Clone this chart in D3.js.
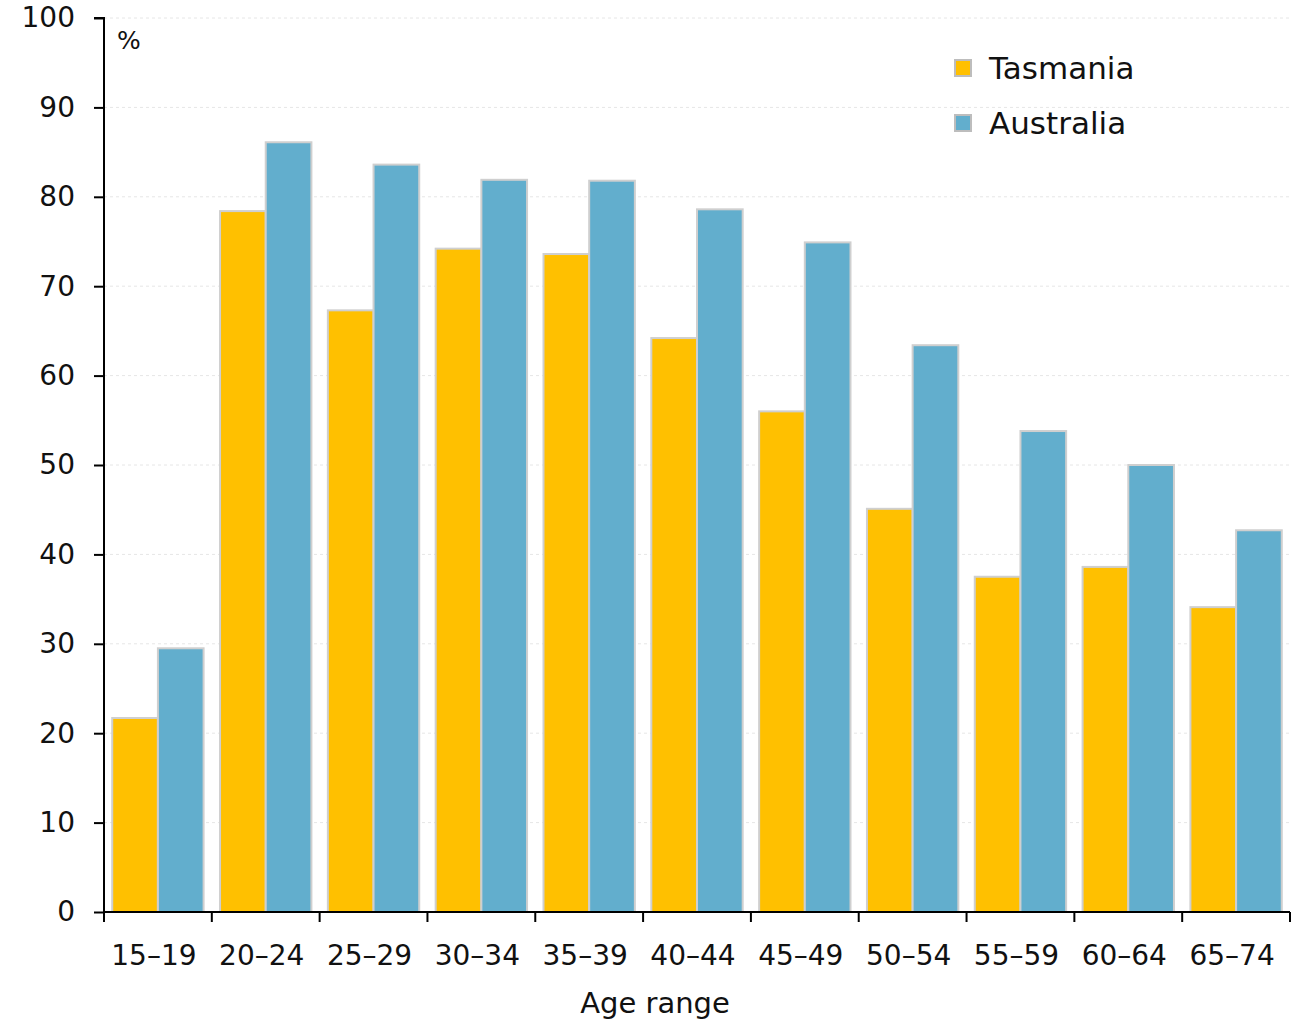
<!DOCTYPE html>
<html>
<head>
<meta charset="utf-8">
<script src="https://cdn.jsdelivr.net/npm/d3@7"></script>
<style>
  html, body { margin: 0; padding: 0; background: #fff; }
  svg { display: block; font-family: "DejaVu Sans", "Lato", sans-serif; }
</style>
</head>
<body>
<svg id="chart" width="1310" height="1022"></svg>
<script>
// Participation rate by age range, Tasmania vs Australia (%)
const categories = ["15–19", "20–24", "25–29", "30–34", "35–39", "40–44", "45–49", "50–54", "55–59", "60–64", "65–74"];
const tasmania  = [21.7, 78.4, 67.3, 74.2, 73.6, 64.2, 56.0, 45.1, 37.5, 38.6, 34.1];
const australia = [29.5, 86.1, 83.6, 81.9, 81.8, 78.6, 74.9, 63.4, 53.8, 50.0, 42.7];
const seriesNames = ["Tasmania", "Australia"];
const seriesColors = ["#FFC000", "#62AECD"];
const yTicks = [0, 10, 20, 30, 40, 50, 60, 70, 80, 90, 100];

const svg = d3.select("#chart");
const W = 1310, H = 1022;
const margin = { left: 104, right: 20, top: 18, bottom: 110 };
const x0 = margin.left, x1 = W - margin.right, yTop = margin.top, yBot = H - margin.bottom;
const textColor = "#111";

const x = d3.scaleBand().domain(categories).range([x0, x1]).paddingInner(0).paddingOuter(0);
const xs = d3.scaleBand().domain(seriesNames).range([0, x.bandwidth()]).paddingOuter(0.18).paddingInner(0);
const y = d3.scaleLinear().domain([0, 100]).range([yBot, yTop]);

// faint dashed gridlines
svg.append("g")
  .selectAll("line")
  .data(yTicks.filter(d => d > 0))
  .join("line")
  .attr("x1", x0).attr("x2", x1)
  .attr("y1", d => y(d)).attr("y2", d => y(d))
  .attr("stroke", "#e6e6e6")
  .attr("stroke-width", 1)
  .attr("stroke-dasharray", "3,3");

// bars
const rows = categories.map((c, i) => ({ cat: c, vals: [tasmania[i], australia[i]] }));
const groups = svg.append("g").selectAll("g")
  .data(rows).join("g")
  .attr("transform", d => `translate(${x(d.cat)},0)`);
groups.selectAll("rect")
  .data(d => d.vals.map((v, j) => ({ name: seriesNames[j], v, j })))
  .join("rect")
  .attr("x", d => xs(d.name))
  .attr("width", xs.bandwidth())
  .attr("y", d => y(d.v))
  .attr("height", d => y(0) - y(d.v))
  .attr("fill", d => seriesColors[d.j])
  .attr("stroke", "#cfcfcf")
  .attr("stroke-width", 2);

// y axis
const yAxis = d3.axisLeft(y).tickValues(yTicks).tickSize(10).tickPadding(19);
const gy = svg.append("g").attr("transform", `translate(${x0},0)`).call(yAxis);
gy.select(".domain").attr("stroke", "#000").attr("stroke-width", 2).attr("d", `M-10,${yTop}H0V${yBot}`);
gy.selectAll(".tick line").attr("stroke", "#000").attr("stroke-width", 2);
gy.selectAll(".tick text").attr("font-size", 28).attr("fill", textColor).attr("font-family", "DejaVu Sans, sans-serif");

// x axis with ticks at category boundaries
const gx = svg.append("g").attr("transform", `translate(0,${yBot})`);
gx.append("line").attr("x1", x0).attr("x2", x1).attr("stroke", "#000").attr("stroke-width", 2);
const bounds = categories.map(c => x(c)).concat([x1]);
gx.selectAll("line.tk").data(bounds).join("line").attr("class", "tk")
  .attr("x1", d => d).attr("x2", d => d).attr("y1", 0).attr("y2", 10)
  .attr("stroke", "#000").attr("stroke-width", 2);
gx.selectAll("text").data(categories).join("text")
  .attr("x", d => x(d) + x.bandwidth() / 2 - 4)
  .attr("y", 53)
  .attr("text-anchor", "middle")
  .attr("font-size", 28)
  .attr("fill", textColor)
  .text(d => d);

// axis titles
svg.append("text").attr("x", 117).attr("y", 49).attr("font-size", 25).attr("fill", textColor).text("%");
svg.append("text").attr("x", W / 2).attr("y", 1013).attr("text-anchor", "middle")
  .attr("font-size", 29).attr("fill", textColor).text("Age range");

// legend
const legend = svg.append("g").attr("transform", "translate(955,60)");
seriesNames.forEach((name, i) => {
  const g = legend.append("g").attr("transform", `translate(0,${i * 55})`);
  g.append("rect").attr("width", 16).attr("height", 16)
    .attr("fill", seriesColors[i]).attr("stroke", "#bdbdbd").attr("stroke-width", 2);
  g.append("text").attr("x", 34).attr("y", 19).attr("font-size", 31).attr("fill", textColor).text(name);
});
</script>
</body>
</html>
